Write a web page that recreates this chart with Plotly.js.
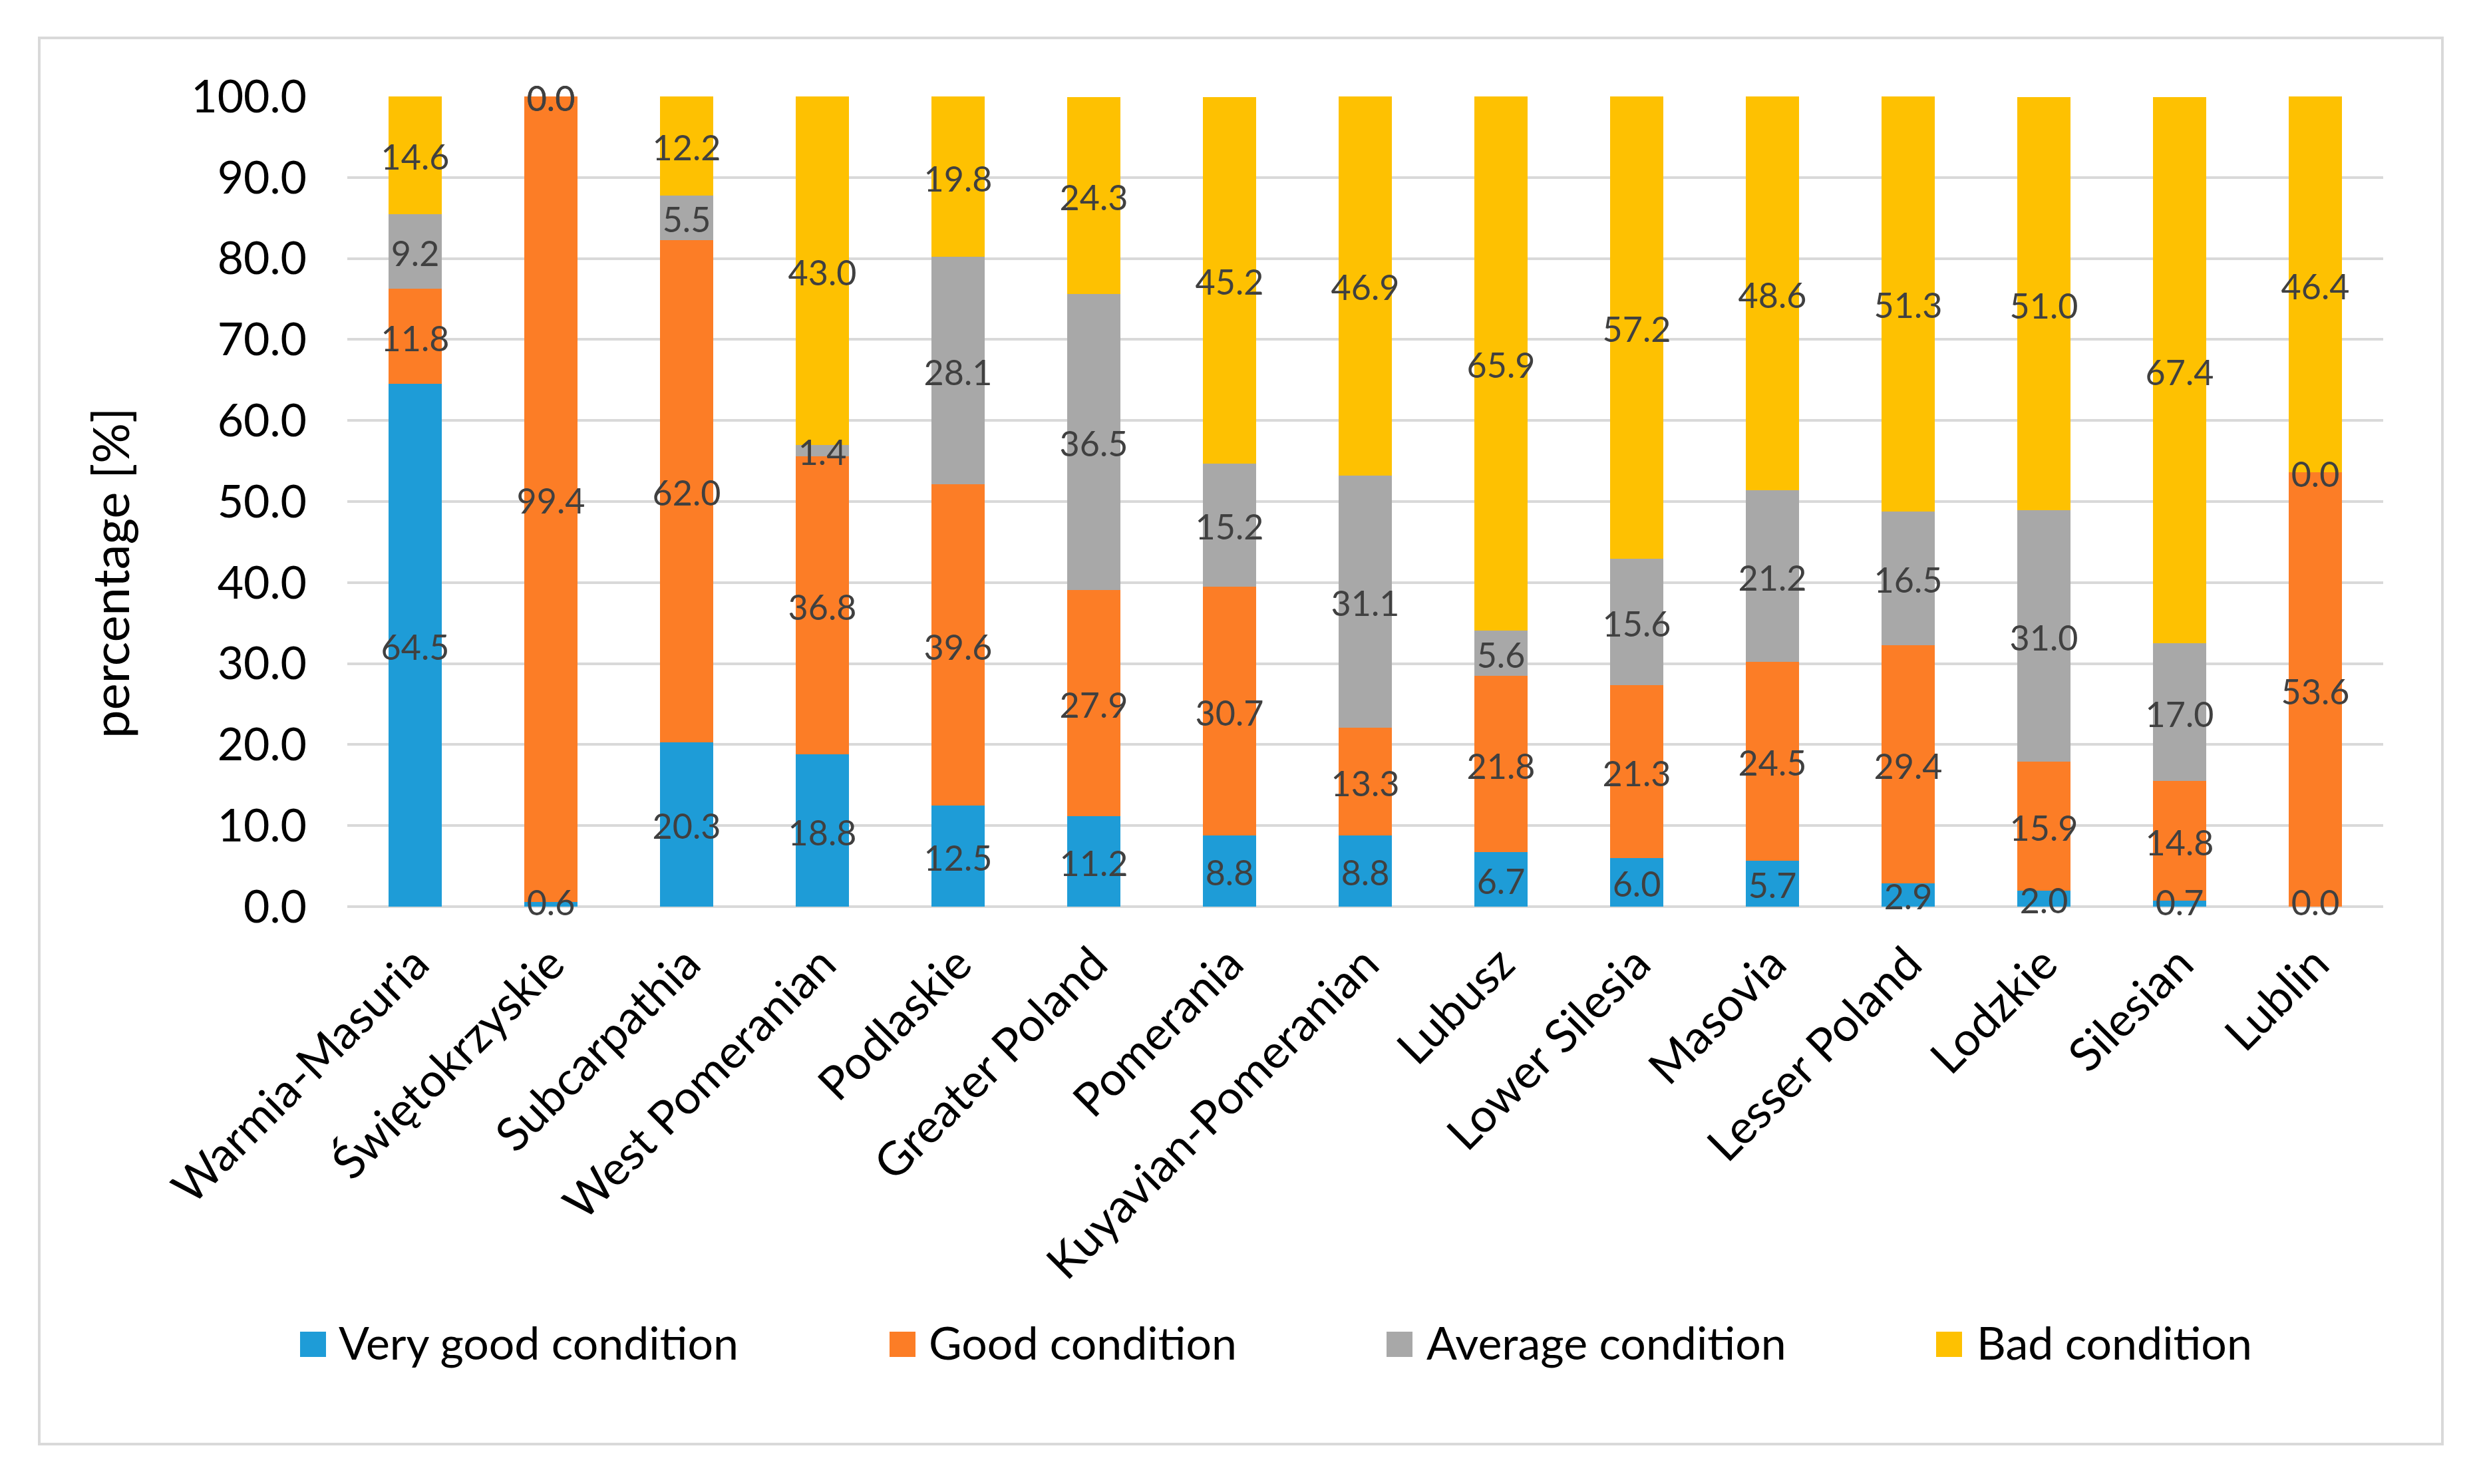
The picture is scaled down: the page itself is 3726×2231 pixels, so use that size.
<!DOCTYPE html>
<html>
<head>
<meta charset="utf-8">
<script src="https://cdn.plot.ly/plotly-3.0.1.min.js"></script>
<style>html,body{margin:0;padding:0;background:#fff;}#chart{width:3726px;height:2231px;}</style>
</head>
<body>
<div id="chart"></div>
<script>
const categories = ["Warmia-Masuria","Świętokrzyskie","Subcarpathia","West Pomeranian","Podlaskie","Greater Poland","Pomerania","Kuyavian-Pomeranian","Lubusz","Lower Silesia","Masovia","Lesser Poland","Lodzkie","Silesian","Lublin"];
const veryGood = [64.5, 0.6, 20.3, 18.8, 12.5, 11.2, 8.8, 8.8, 6.7, 6.0, 5.7, 2.9, 2.0, 0.7, 0.0];
const good     = [11.8, 99.4, 62.0, 36.8, 39.6, 27.9, 30.7, 13.3, 21.8, 21.3, 24.5, 29.4, 15.9, 14.8, 53.6];
const average  = [9.2, 0.0, 5.5, 1.4, 28.1, 36.5, 15.2, 31.1, 5.6, 15.6, 21.2, 16.5, 31.0, 17.0, 0.0];
const bad      = [14.6, 0.0, 12.2, 43.0, 19.8, 24.3, 45.2, 46.9, 65.9, 57.2, 48.6, 51.3, 51.0, 67.4, 46.4];
const seriesNames = ["Very good condition","Good condition","Average condition","Bad condition"];
const seriesColors = ["#1E9CD7","#FC7D26","#A8A8A8","#FEC101"];
const yTickVals = [0,10,20,30,40,50,60,70,80,90,100];

const W = 3726, H = 2231;
const L = 522, R = 3582, T = 145, B = 1363;
const pw = R - L, ph = B - T;
const px = x => (x - L) / pw;
const py = y => (B - y) / ph;
// small vertical nudge (in pixels) so label glyphs sit optically centred like the original
const labelNudgePx = 9;
const labelNudge = labelNudgePx / ph * 100;

const FONT = "Lato, 'Open Sans', sans-serif";
const allSeries = [veryGood, good, average, bad];
const legendIds = ["legend","legend2","legend3","legend4"];
const traces = [];
const base = categories.map(() => 0);
const labelTraces = [];
allSeries.forEach((vals, si) => {
  traces.push({
    type: "bar", name: seriesNames[si], x: categories, y: vals,
    marker: {color: seriesColors[si], line: {width: 0}},
    legend: legendIds[si], hoverinfo: "skip"
  });
  const mids = vals.map((v, i) => Math.max(base[i] + v / 2 - labelNudge, 0));
  labelTraces.push({
    type: "scatter", mode: "text", x: categories, y: mids,
    text: vals.map(v => v.toFixed(1)),
    textposition: "middle center",
    textfont: {family: FONT, size: 52, color: "#404040"},
    showlegend: false, hoverinfo: "skip", cliponaxis: false
  });
  vals.forEach((v, i) => base[i] += v);
});

const legendTextStarts = [509, 1396, 2144, 2971];
const legendSquares = [[451, 490], [1337, 1376], [2084, 2123], [2910, 2949]];
const legendY = 2018;
const legends = {};
legendIds.forEach((id, k) => {
  legends[id] = {
    x: px(legendTextStarts[k] - 74), xanchor: "left",
    y: py(legendY), yanchor: "middle",
    orientation: "h", itemwidth: 64,
    bgcolor: "rgba(0,0,0,0)", borderwidth: 0,
    font: {family: FONT, size: 68, color: "#000"}
  };
});

const shapes = [{
  type: "rect", xref: "paper", yref: "paper",
  x0: px(59), x1: px(3671), y0: py(2171), y1: py(57),
  line: {color: "#D9D9D9", width: 4}, fillcolor: "rgba(0,0,0,0)", layer: "below"
}];
legendSquares.forEach((sq, k) => {
  shapes.push({
    type: "rect", xref: "paper", yref: "paper",
    x0: px(sq[0]), x1: px(sq[1]), y0: py(2040), y1: py(2002),
    line: {width: 0}, fillcolor: seriesColors[k], layer: "above"
  });
});

const layout = Object.assign({
  width: W, height: H,
  margin: {l: L, r: W - R, t: T, b: H - B, pad: 0},
  paper_bgcolor: "#fff", plot_bgcolor: "#fff",
  barmode: "stack", bargap: 0.603,
  font: {family: FONT, color: "#000"},
  xaxis: {
    type: "category", range: [-0.5, categories.length - 0.5],
    tickangle: -45, showgrid: false, showline: false, zeroline: false,
    ticks: "", ticklabelstandoff: 30,
    tickfont: {family: FONT, size: 70, color: "#000"}, automargin: false
  },
  yaxis: {
    range: [0, 100], tickvals: yTickVals, ticktext: yTickVals.map(v => v.toFixed(1)),
    showgrid: true, gridcolor: "#D9D9D9", gridwidth: 4,
    zeroline: true, zerolinecolor: "#D9D9D9", zerolinewidth: 4,
    showline: false, ticks: "", ticklabelstandoff: 60,
    tickfont: {family: FONT, size: 68, color: "#000"}, automargin: false
  },
  annotations: [{
    text: "percentage [%]", xref: "paper", yref: "paper",
    x: px(164), y: py(862), xanchor: "center", yanchor: "middle",
    textangle: -90, showarrow: false,
    font: {family: FONT, size: 76, color: "#000"}
  }],
  shapes: shapes
}, legends);

Plotly.newPlot("chart", traces.concat(labelTraces), layout, {displayModeBar: false, staticPlot: true});
</script>
</body>
</html>
